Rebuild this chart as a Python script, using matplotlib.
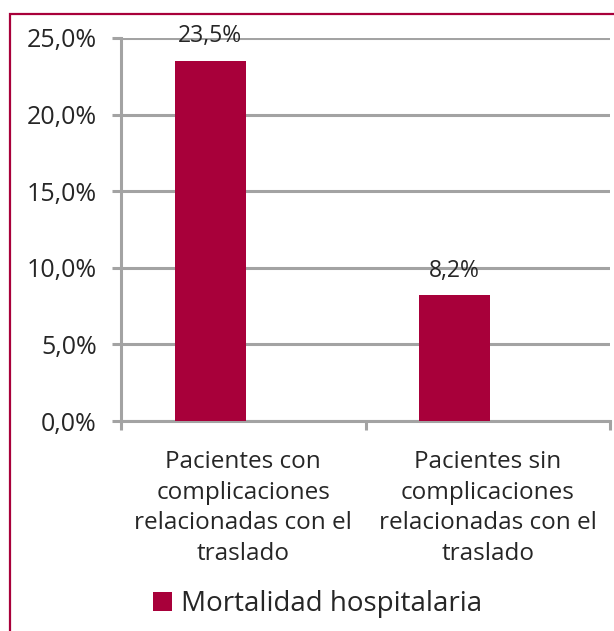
import matplotlib.pyplot as plt
from matplotlib.patches import Rectangle
from matplotlib.ticker import FuncFormatter

categories = ["Pacientes con\ncomplicaciones\nrelacionadas con el\ntraslado",
              "Pacientes sin\ncomplicaciones\nrelacionadas con el\ntraslado"]
values = [23.5, 8.2]
series_name = "Mortalidad hospitalaria"
yticks = [0, 5, 10, 15, 20, 25]

red = "#A8003A"
grey = "#A3A3A3"
txt = "#262626"

plt.rcParams["font.family"] = ["Open Sans", "DejaVu Sans"]

fig = plt.figure(figsize=(6.14, 6.31), dpi=100)
ax = fig.add_axes([121 / 614, 210 / 631, 489 / 614, 383 / 631])

x = list(range(len(categories)))
xb = [i - 0.135 for i in x]
bars = ax.bar(xb, values, width=0.29, color=red, label=series_name, zorder=3)
for b, v in zip(bars, values):
    ax.annotate(f"{v:.1f}%".replace(".", ","), (b.get_x() + b.get_width() / 2, v),
                xytext=(0, 9), textcoords="offset points", ha="center", va="bottom",
                fontsize=16.5, color=txt)

ax.set_xlim(-0.5, 1.5)
ax.set_ylim(0, 25)
ax.set_yticks(yticks)
ax.yaxis.set_major_formatter(FuncFormatter(lambda v, p: f"{v:.1f}%".replace(".", ",")))
ax.set_xticks([-0.5, 0.5, 1.5], minor=False)
ax.set_xticklabels([])
ax.set_xticks(x, minor=True)
ax.set_xticklabels(categories, minor=True, fontsize=17.5, color=txt, linespacing=1.36)
ax.tick_params(axis="x", which="minor", length=0, pad=21)
ax.tick_params(axis="x", which="major", length=6.5, width=2.2, color=grey)
ax.tick_params(axis="y", length=6.5, width=2.2, color=grey, labelsize=18, labelcolor=txt, pad=11)

ax.grid(axis="y", color=grey, linewidth=2.2, zorder=0)
for s in ["top", "right"]:
    ax.spines[s].set_visible(False)
for s in ["left", "bottom"]:
    ax.spines[s].set_color(grey)
    ax.spines[s].set_linewidth(2.2)

fig.legend(handles=[bars], labels=[series_name], loc="center left",
           bbox_to_anchor=(128 / 614, 1 - 604 / 631), frameon=False,
           fontsize=20, handlelength=0.7, handleheight=0.7, handletextpad=0.3,
           labelcolor=txt)

fig.patches.append(Rectangle((9.5 / 614, -0.1), 1.2, 1 - 13.5 / 631 + 0.1,
                             transform=fig.transFigure, fill=False,
                             edgecolor=red, linewidth=1.6))

fig.savefig("out.png", dpi=100)
